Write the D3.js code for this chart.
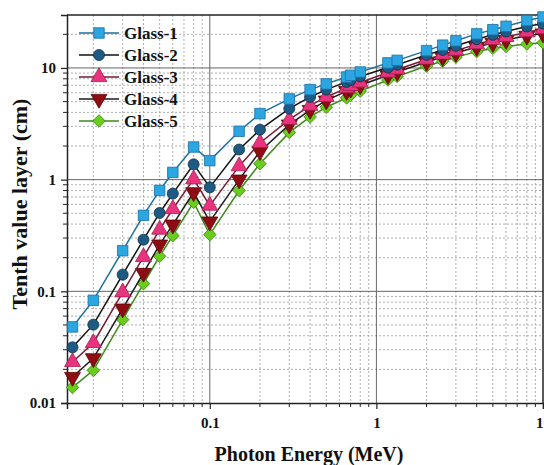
<!DOCTYPE html>
<html>
<head>
<meta charset="utf-8">
<script src="https://cdn.jsdelivr.net/npm/d3@7"></script>
<style>
  body { margin: 0; background: #fff; }
  svg text { font-family: "Liberation Serif", "Times New Roman", Times, "DejaVu Serif", serif; font-weight: bold; }
</style>
</head>
<body>
<svg id="svg" width="544" height="465"></svg>
<script>
// photon energies (MeV)
var energy = [0.015, 0.02, 0.03, 0.04, 0.05, 0.06, 0.08, 0.1, 0.15, 0.2, 0.3, 0.4, 0.5,
              0.662, 0.7, 0.8, 1.173, 1.333, 2, 2.5, 3, 4, 5, 6, 8, 10];

// tenth value layer (cm)
var glass1 = [0.048, 0.083, 0.231, 0.479, 0.80, 1.16, 1.96, 1.48, 2.71, 3.90, 5.28, 6.4, 7.2,
              8.3, 8.6, 9.2, 11.1, 11.7, 14.3, 16.0, 17.5, 20.2, 22.0, 23.6, 26.6, 28.6];
var glass2 = [0.0315, 0.0503, 0.141, 0.29, 0.503, 0.75, 1.37, 0.853, 1.86, 2.80, 4.32, 5.5, 6.4,
              7.5, 7.8, 8.4, 10.1, 10.7, 13.1, 14.5, 15.8, 18.1, 19.8, 21.2, 23.5, 25.0];
var glass3 = [0.0233, 0.0345, 0.098, 0.203, 0.357, 0.546, 1.01, 0.585, 1.32, 2.13, 3.44, 4.6, 5.5,
              6.6, 6.9, 7.4, 9.1, 9.7, 11.9, 13.2, 14.3, 16.3, 17.8, 19.0, 20.9, 22.3];
var glass4 = [0.0171, 0.0251, 0.070, 0.146, 0.262, 0.395, 0.77, 0.421, 1.0, 1.79, 3.11, 4.2, 5.1,
              6.2, 6.5, 7.0, 8.6, 9.2, 11.3, 12.5, 13.6, 15.4, 16.7, 17.8, 19.4, 20.3];
var glass5 = [0.0138, 0.0196, 0.0558, 0.117, 0.206, 0.315, 0.627, 0.322, 0.80, 1.39, 2.65, 3.64, 4.45,
              5.4, 5.7, 6.2, 7.8, 8.4, 10.4, 11.5, 12.5, 14.0, 15.0, 15.6, 16.4, 16.8];

var seriesNames = ["Glass-1", "Glass-2", "Glass-3", "Glass-4", "Glass-5"];
var xTicks = [0.1, 1, 10];
var yTicks = [0.01, 0.1, 1, 10];

var series = [
  { name: seriesNames[0], values: glass1, line: "#1f6f9f", fill: "#2ba6e0", stroke: "#1b6fa8", sym: d3.symbolSquare, size: 110, rot: 0 },
  { name: seriesNames[1], values: glass2, line: "#111111", fill: "#1d5b85", stroke: "#0f2f45", sym: d3.symbolCircle, size: 95, rot: 0 },
  { name: seriesNames[2], values: glass3, line: "#7a1a33", fill: "#e8347e", stroke: "#a0204a", sym: d3.symbolTriangle, size: 110, rot: 0 },
  { name: seriesNames[3], values: glass4, line: "#1a1a1a", fill: "#8e0d12", stroke: "#5a0508", sym: d3.symbolTriangle, size: 110, rot: 180 },
  { name: seriesNames[4], values: glass5, line: "#3b8a1a", fill: "#6acc1e", stroke: "#3e8a10", sym: d3.symbolSquare, size: 80, rot: 45 }
];

var svg = d3.select("#svg");
var mLeft = 67, mRight = 543, mTop = 15, mBottom = 403;

var x = d3.scaleLog().domain([0.0139, 10]).range([mLeft, mRight]);
var y = d3.scaleLog().domain([0.01, 29.8]).range([mBottom, mTop]);

// minor values
var xMinor = [], yMinor = [];
[0.01, 0.1, 1].forEach(function(d) {
  for (var k = 2; k <= 9; k++) {
    var v = d * k;
    if (v >= 0.0139 && v <= 10) xMinor.push(v);
  }
});
[0.01, 0.1, 1, 10].forEach(function(d) {
  for (var k = 2; k <= 9; k++) {
    var v = d * k;
    if (v <= 29.8) yMinor.push(v);
  }
});

//////// GRID ////////
var grid = svg.append("g");
grid.selectAll(".xminor").data(xMinor).enter().append("line")
  .attr("x1", function(d) { return x(d); }).attr("x2", function(d) { return x(d); })
  .attr("y1", mTop).attr("y2", mBottom)
  .attr("stroke", "#9a9a9a").attr("stroke-width", 0.8).attr("stroke-dasharray", "2,2");
grid.selectAll(".yminor").data(yMinor).enter().append("line")
  .attr("y1", function(d) { return y(d); }).attr("y2", function(d) { return y(d); })
  .attr("x1", mLeft).attr("x2", mRight)
  .attr("stroke", "#9a9a9a").attr("stroke-width", 0.8).attr("stroke-dasharray", "2,2");
grid.selectAll(".xmajor").data([0.1, 1]).enter().append("line")
  .attr("x1", function(d) { return x(d); }).attr("x2", function(d) { return x(d); })
  .attr("y1", mTop).attr("y2", mBottom)
  .attr("stroke", "#666").attr("stroke-width", 1);
grid.selectAll(".ymajor").data([0.1, 1, 10]).enter().append("line")
  .attr("y1", function(d) { return y(d); }).attr("y2", function(d) { return y(d); })
  .attr("x1", mLeft).attr("x2", mRight)
  .attr("stroke", "#666").attr("stroke-width", 1);

//////// AXES ////////
var xAxis = d3.axisBottom(x).tickValues(xTicks).tickFormat(d3.format("~g")).tickSize(6);
var gx = svg.append("g").attr("transform", "translate(0," + mBottom + ")").call(xAxis);
gx.attr("font-family", null);
gx.select(".domain").attr("stroke", "#222").attr("stroke-width", 1.5);
gx.selectAll(".tick line").attr("stroke", "#222").attr("stroke-width", 1.2);
gx.selectAll("text").attr("font-size", 15).attr("fill", "#111").attr("dy", "1.05em");
gx.selectAll(".minor").data(xMinor).enter().append("line")
  .attr("x1", function(d) { return x(d); }).attr("x2", function(d) { return x(d); })
  .attr("y1", 0).attr("y2", 4).attr("stroke", "#222");

var yAxis = d3.axisLeft(y).tickValues(yTicks).tickFormat(d3.format("~g")).tickSize(6);
var gy = svg.append("g").attr("transform", "translate(" + mLeft + ",0)").call(yAxis);
gy.attr("font-family", null);
gy.select(".domain").attr("stroke", "#222").attr("stroke-width", 1.5);
gy.selectAll(".tick line").attr("stroke", "#222").attr("stroke-width", 1.2);
gy.selectAll("text").attr("font-size", 15).attr("fill", "#111").attr("x", -11);
gy.selectAll(".minor").data(yMinor).enter().append("line")
  .attr("y1", function(d) { return y(d); }).attr("y2", function(d) { return y(d); })
  .attr("x1", 0).attr("x2", -4).attr("stroke", "#222");

// top / right frame
svg.append("line").attr("x1", mLeft).attr("x2", mRight).attr("y1", mTop).attr("y2", mTop)
  .attr("stroke", "#222").attr("stroke-width", 1.5);
svg.append("line").attr("x1", mRight).attr("x2", mRight).attr("y1", mTop).attr("y2", mBottom)
  .attr("stroke", "#222").attr("stroke-width", 1.5);

//////// LINES + MARKERS ////////
var line = d3.line()
  .x(function(d) { return x(d[0]); })
  .y(function(d) { return y(d[1]); });

series.slice().reverse().forEach(function(s) {
  var pts = energy.map(function(e, i) { return [e, s.values[i]]; });
  svg.append("path").datum(pts)
    .attr("d", line).attr("fill", "none")
    .attr("stroke", s.line).attr("stroke-width", 1.5);
  svg.append("g").selectAll("path").data(pts).enter().append("path")
    .attr("d", d3.symbol().type(s.sym).size(s.size))
    .attr("transform", function(d) { return "translate(" + x(d[0]) + "," + y(d[1]) + ") rotate(" + s.rot + ")"; })
    .attr("fill", s.fill).attr("stroke", s.stroke).attr("stroke-width", 0.8);
});

//////// LEGEND ////////
var legend = svg.append("g");
series.forEach(function(s, i) {
  var ly = 33 + i * 22;
  legend.append("line").attr("x1", 79).attr("x2", 119).attr("y1", ly).attr("y2", ly)
    .attr("stroke", s.line).attr("stroke-width", 1.5);
  legend.append("path")
    .attr("d", d3.symbol().type(s.sym).size(s.size))
    .attr("transform", "translate(99," + ly + ") rotate(" + s.rot + ")")
    .attr("fill", s.fill).attr("stroke", s.stroke).attr("stroke-width", 0.8);
  legend.append("text").attr("x", 124).attr("y", ly + 6)
    .attr("font-size", 17).attr("fill", "#111").text(s.name);
});

//////// TITLES ////////
svg.append("text")
  .attr("x", 309).attr("y", 461)
  .attr("text-anchor", "middle").attr("font-size", 20).attr("fill", "#111")
  .text("Photon Energy (MeV)");

svg.append("text")
  .attr("transform", "translate(27,204) rotate(-90)")
  .attr("text-anchor", "middle").attr("font-size", 22).attr("fill", "#111")
  .text("Tenth value layer (cm)");
</script>
</body>
</html>
